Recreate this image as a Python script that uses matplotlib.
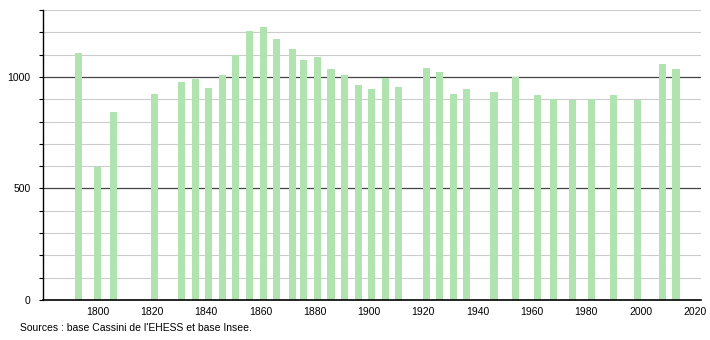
import matplotlib.pyplot as plt
import numpy as np

# Census years and population
years = [1793, 1800, 1806, 1821, 1831, 1836, 1841, 1846, 1851, 1856, 1861,
         1866, 1872, 1876, 1881, 1886, 1891, 1896, 1901, 1906, 1911, 1921,
         1926, 1931, 1936, 1946, 1954, 1962, 1968, 1975, 1982, 1990, 1999,
         2008, 2013]
population = [1105, 595, 845, 925, 976, 991, 952, 1010, 1100, 1204, 1222,
              1168, 1126, 1078, 1091, 1036, 1010, 965, 947, 997, 956, 1042,
              1024, 925, 947, 934, 998, 920, 902, 897, 902, 920, 897,
              1060, 1036]
x_ticks = [1800, 1820, 1840, 1860, 1880, 1900, 1920, 1940, 1960, 1980, 2000, 2020]
y_ticks = [0, 500, 1000]
source_text = "Sources : base Cassini de l'EHESS et base Insee."


def main():
    plt.rcParams['font.family'] = ['Liberation Sans', 'DejaVu Sans']
    fig = plt.figure(figsize=(7.1, 3.4), dpi=100)
    ax = fig.add_axes([0.0606, 0.1176, 0.9267, 0.853])

    # grid first so bars sit on top
    for v in range(100, 1400, 100):
        major = v % 500 == 0
        ax.axhline(v, color='#444444' if major else '#cccccc',
                   lw=0.9 if major else 0.8, zorder=1)

    ax.bar(years, population, width=2.6, color='#b0e3b0', zorder=2)

    ax.set_xlim(1780, 2022.2)
    ax.set_ylim(0, 1300)
    ax.set_xticks(x_ticks)
    ax.set_yticks(y_ticks)
    ax.set_yticks(np.arange(0, 1301, 100), minor=True)
    ax.tick_params(axis='x', length=0, labelsize=7.5, pad=5)
    ax.tick_params(axis='y', which='both', length=3, width=0.8,
                   labelsize=7.5, pad=6)

    for side in ['top', 'right']:
        ax.spines[side].set_visible(False)
    ax.spines['left'].set_linewidth(1.0)
    ax.spines['bottom'].set_linewidth(1.2)

    fig.text(0.028, 0.035, source_text, fontsize=7.5, ha='left', va='center')

    plt.savefig('out.png', dpi=100)
    plt.close()


if __name__ == "__main__":
    main()
